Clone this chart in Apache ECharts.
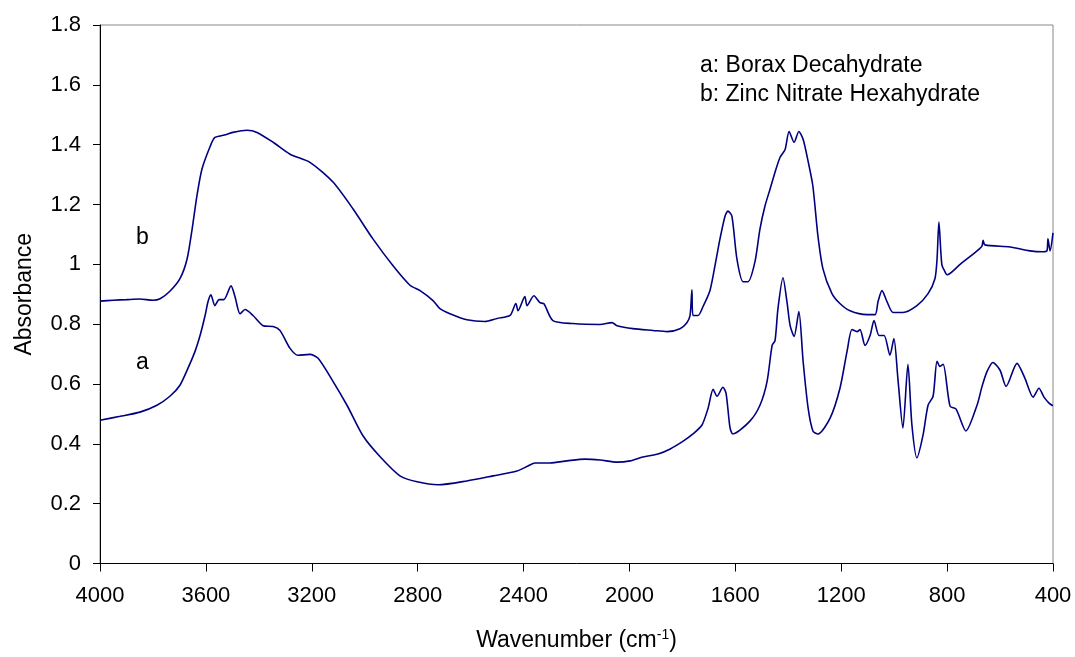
<!DOCTYPE html>
<html>
<head>
<meta charset="utf-8">
<script src="https://cdn.jsdelivr.net/npm/echarts@6/dist/echarts.min.js"></script>
<style>
  html, body { margin: 0; padding: 0; background: #fff; }
  #chart { width: 1075px; height: 657px; }
</style>
</head>
<body>
<div id="chart"></div>
<script>
// curve a: Borax Decahydrate
var waveA = [4000,3924,3849,3785,3736,3698,3668,3641,3622,3603,3592,3581,3566,3550,3532,3505,3490,3471,3452,3422,3384,3346,3320,3282,3252,3207,3176,3120,3067,3006,2940,2867,2802,2723,2614,2515,2425,2383,2357,2300,2236,2168,2111,2047,1998,1949,1892,1846,1797,1760,1726,1703,1684,1669,1647,1635,1620,1609,1545,1507,1480,1461,1450,1439,1420,1405,1393,1378,1360,1344,1325,1307,1288,1242,1205,1178,1159,1140,1129,1110,1091,1076,1057,1038,1016,1001,986,967,948,933,914,891,872,853,838,827,815,789,766,729,687,668,649,627,600,577,536,506,475,453,434,415,404,400];
var absA = [0.479,0.492,0.506,0.529,0.559,0.596,0.652,0.709,0.762,0.829,0.875,0.898,0.862,0.882,0.882,0.928,0.892,0.835,0.849,0.829,0.795,0.792,0.779,0.719,0.696,0.699,0.686,0.609,0.529,0.426,0.355,0.293,0.273,0.263,0.276,0.293,0.309,0.326,0.336,0.336,0.343,0.349,0.346,0.339,0.343,0.356,0.366,0.383,0.409,0.433,0.463,0.519,0.582,0.559,0.589,0.569,0.453,0.433,0.476,0.529,0.609,0.729,0.745,0.852,0.955,0.875,0.795,0.759,0.842,0.676,0.519,0.443,0.433,0.486,0.585,0.709,0.782,0.775,0.782,0.729,0.762,0.812,0.762,0.762,0.696,0.752,0.619,0.453,0.666,0.463,0.353,0.429,0.529,0.559,0.676,0.659,0.666,0.526,0.516,0.443,0.529,0.592,0.642,0.672,0.646,0.592,0.669,0.619,0.556,0.586,0.556,0.536,0.529,0.528];

// curve b: Zinc Nitrate Hexahydrate
var waveB = [4000,3950,3900,3850,3800,3773,3736,3698,3671,3652,3634,3615,3584,3566,3530,3498,3445,3407,3346,3282,3207,3120,3044,2969,2893,2829,2791,2742,2716,2678,2614,2546,2500,2451,2429,2421,2395,2387,2361,2338,2323,2289,2213,2111,2066,2047,1987,1911,1858,1809,1783,1771,1764,1760,1741,1722,1696,1677,1658,1639,1628,1613,1594,1571,1552,1526,1507,1488,1469,1450,1431,1412,1397,1378,1360,1344,1325,1307,1288,1269,1235,1205,1167,1103,1072,1061,1046,1027,1004,967,914,872,846,838,831,820,808,800,751,687,668,664,657,562,487,438,423,419,411,400];
var absB = [0.877,0.880,0.882,0.884,0.880,0.885,0.910,0.952,1.018,1.118,1.228,1.318,1.394,1.424,1.432,1.441,1.448,1.441,1.408,1.368,1.341,1.275,1.185,1.085,0.995,0.930,0.912,0.879,0.852,0.835,0.815,0.809,0.819,0.829,0.869,0.845,0.892,0.862,0.895,0.872,0.868,0.812,0.802,0.799,0.805,0.795,0.785,0.779,0.775,0.785,0.805,0.829,0.915,0.829,0.829,0.859,0.912,0.995,1.085,1.161,1.178,1.161,1.018,0.942,0.942,1.008,1.118,1.195,1.251,1.308,1.358,1.384,1.444,1.408,1.444,1.418,1.344,1.261,1.095,0.985,0.902,0.869,0.845,0.832,0.832,0.875,0.912,0.875,0.839,0.839,0.862,0.902,0.952,1.018,1.141,1.000,0.975,0.965,1.000,1.045,1.062,1.080,1.065,1.058,1.045,1.042,1.045,1.085,1.045,1.105];

var xTicks = [4000,3600,3200,2800,2400,2000,1600,1200,800,400];
var yTicks = [0,0.2,0.4,0.6,0.8,1,1.2,1.4,1.6,1.8];

function zip(xs, ys){
    var out = [];
    for(var i=0;i<xs.length;i++){
        out.push([xs[i], ys[i]]);
    }
    return out;
}

var font = 'Liberation Sans, Arial, sans-serif';
var chart = echarts.init(document.getElementById('chart'));
chart.setOption({
    animation:false,
    backgroundColor:'#fff',
    grid:{
        left:100,
        right:22,
        top:25,
        bottom:91,
        show:true,
        borderColor:'#888',
        borderWidth:1
    },
    xAxis:{
        type:'value',
        inverse:true,
        min:xTicks[xTicks.length-1],
        max:xTicks[0],
        interval:400,
        name:'Wavenumber (cm{sup|-1})',
        nameLocation:'middle',
        nameGap:65,
        nameTextStyle:{
            fontFamily:font,
            fontSize:23,
            color:'#000',
            rich:{
                sup:{fontFamily:font, fontSize:14, verticalAlign:'top', padding:[0,0,10,0]}
            }
        },
        axisLine:{lineStyle:{color:'#000',width:1}},
        axisTick:{show:true,inside:false,length:8,lineStyle:{color:'#000'}},
        axisLabel:{
            fontFamily:font,fontSize:22,color:'#000',margin:21,
            formatter:function(v){ return String(v); }
        },
        splitLine:{show:false}
    },
    yAxis:{
        type:'value',
        min:yTicks[0],
        max:yTicks[yTicks.length-1],
        interval:0.2,
        name:'Absorbance',
        nameLocation:'middle',
        nameGap:64,
        nameTextStyle:{fontFamily:font,fontSize:23,color:'#000'},
        axisLine:{show:true,lineStyle:{color:'#000',width:1}},
        axisTick:{show:true,inside:false,length:7,lineStyle:{color:'#000'}},
        axisLabel:{
            fontFamily:font,fontSize:22,color:'#000',margin:19,
            formatter:function(v){ return String(Math.round(v*10)/10); }
        },
        splitLine:{show:false}
    },
    graphic:[
        {type:'text',left:700,top:54,style:{text:'a: Borax Decahydrate',font:'23px '+font,fill:'#000'}},
        {type:'text',left:700,top:83,style:{text:'b: Zinc Nitrate Hexahydrate',font:'23px '+font,fill:'#000'}},
        {type:'text',left:136,top:226,style:{text:'b',font:'23px '+font,fill:'#000'}},
        {type:'text',left:136,top:351,style:{text:'a',font:'23px '+font,fill:'#000'}}
    ],
    series:[
        {
            name:'a',
            type:'line',
            data:zip(waveA,absA),
            symbol:'none',
            smooth:0.25,
            lineStyle:{color:'#000080',width:1.6}
        },
        {
            name:'b',
            type:'line',
            data:zip(waveB,absB),
            symbol:'none',
            smooth:0.25,
            lineStyle:{color:'#000080',width:1.6}
        }
    ]
});
</script>
</body>
</html>
